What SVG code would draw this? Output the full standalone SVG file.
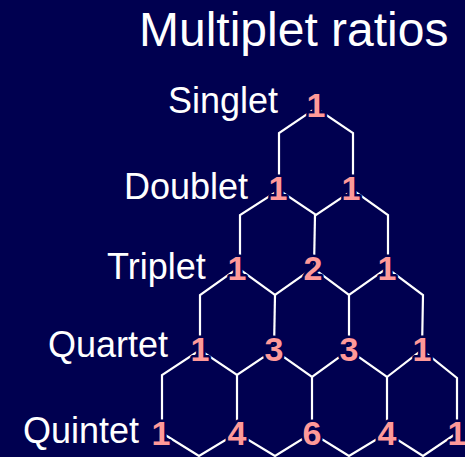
<svg xmlns="http://www.w3.org/2000/svg" width="465" height="457" viewBox="0 0 465 457">
  <style>
    .bg { fill: #000050; }
    .title { font-family: "Liberation Sans", Arial, sans-serif; font-size: 48px; fill: #ffffff; }
    .label { font-family: "Liberation Sans", Arial, sans-serif; font-size: 36px; fill: #ffffff; }
    .num { font-family: "Liberation Sans", Arial, sans-serif; font-size: 34px; font-weight: bold; fill: #ff9999; text-anchor: middle; stroke: #000050; stroke-width: 5px; paint-order: stroke; stroke-linejoin: round; }
    .edge { fill: none; stroke: #ffffff; stroke-width: 2.2; stroke-linejoin: miter; stroke-linecap: butt; }
  </style>
  <rect class="bg" x="0" y="0" width="465" height="457"/>
  <text id="title" class="title" x="139" y="46">Multiplet ratios</text>

  <g id="connectors">
    <!-- row 0 -->
    <polyline class="edge" points="279,190 279,133 316,108 353,133 353,190"/>
    <!-- row 1 -->
    <polyline class="edge" points="240,268 240,215 279,190 316,215 353,190 388,215 388,268"/>
    <line class="edge" x1="315" y1="215" x2="314" y2="268"/>
    <!-- row 2 -->
    <polyline class="edge" points="200,350 200,295 238,268 275,295 313,268 349,295 387,268 423,295 422,350"/>
    <line class="edge" x1="275" y1="295" x2="274" y2="350"/>
    <line class="edge" x1="349" y1="295" x2="349" y2="350"/>
    <!-- row 3 -->
    <polyline class="edge" points="162,433 162,375 200,350 237,375 274,350 312,377 349,350 387,377 422,350 457,378 457,433"/>
    <line class="edge" x1="237" y1="375" x2="237" y2="433"/>
    <line class="edge" x1="312" y1="377" x2="312" y2="433"/>
    <line class="edge" x1="387" y1="377" x2="387" y2="433"/>
    <!-- row 4 -->
    <polyline class="edge" points="162,433 199,456 237,433 275,456 312,433 349,456 387,433 423,456 457,433"/>
  </g>

  <g id="row-singlet">
    <text class="label" x="168" y="113">Singlet</text>
    <g id="n0-0"><text class="num" x="316" y="117">1</text></g>
  </g>
  <g id="row-doublet">
    <text class="label" x="124" y="199">Doublet</text>
    <g id="n1-0"><text class="num" x="278" y="200">1</text></g>
    <g id="n1-1"><text class="num" x="351" y="200">1</text></g>
  </g>
  <g id="row-triplet">
    <text class="label" x="107" y="279">Triplet</text>
    <g id="n2-0"><text class="num" x="237" y="280">1</text></g>
    <g id="n2-1"><text class="num" x="313" y="280">2</text></g>
    <g id="n2-2"><text class="num" x="387" y="280">1</text></g>
  </g>
  <g id="row-quartet">
    <text class="label" x="48" y="357">Quartet</text>
    <g id="n3-0"><text class="num" x="200" y="361">1</text></g>
    <g id="n3-1"><text class="num" x="274" y="361">3</text></g>
    <g id="n3-2"><text class="num" x="349" y="361">3</text></g>
    <g id="n3-3"><text class="num" x="422" y="361">1</text></g>
  </g>
  <g id="row-quintet">
    <text class="label" x="23" y="443">Quintet</text>
    <g id="n4-0"><text class="num" x="161" y="445">1</text></g>
    <g id="n4-1"><text class="num" x="237" y="445">4</text></g>
    <g id="n4-2"><text class="num" x="312" y="445">6</text></g>
    <g id="n4-3"><text class="num" x="387" y="445">4</text></g>
    <g id="n4-4"><text class="num" x="457" y="445">1</text></g>
  </g>
</svg>
